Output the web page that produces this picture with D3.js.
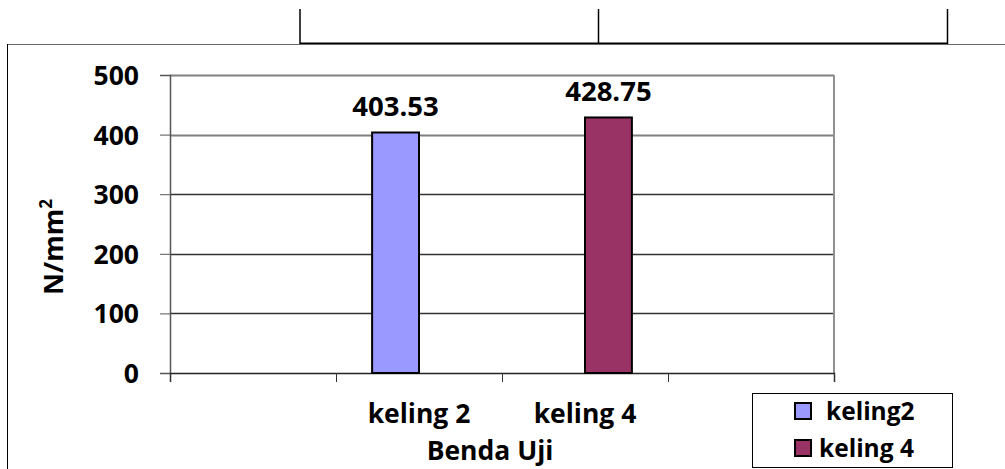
<!DOCTYPE html>
<html lang="en">
<head>
    <meta charset="UTF-8">
    <title>Benda Uji</title>
    <script src="https://d3js.org/d3.v7.min.js"></script>
    <style>
        body { margin: 0; background: #fff; }
        text { font-family: "Open Sans", Lato, sans-serif; font-weight: bold; fill: #000; }
    </style>
</head>
<body>
    <div id="chart"></div>

    <script>
        // Data
        var categories = ["", "keling 2", "keling 4", ""];
        var seriesNames = ["keling2", "keling 4"];
        var keling2Values = [null, 403.53, null, null];
        var keling4Values = [null, null, 428.75, null];
        var seriesColors = ["#9999FF", "#993366"];
        var yTicks = [0, 100, 200, 300, 400, 500];

        var seriesValues = [keling2Values, keling4Values];

        var svg = d3.select("#chart")
            .append("svg")
            .attr("width", 1005)
            .attr("height", 469);

        // table lines at the top of the page
        var header = svg.append("g").attr("stroke", "#000");
        header.append("line").attr("x1", 300).attr("x2", 948).attr("y1", 43.5).attr("y2", 43.5).attr("stroke-width", 2);
        [300, 598.5, 947.5].forEach(function(x) {
            header.append("line").attr("x1", x).attr("x2", x).attr("y1", 9).attr("y2", 44).attr("stroke-width", 1.5);
        });

        // chart frame
        svg.append("line").attr("x1", 7).attr("x2", 1005).attr("y1", 44.5).attr("y2", 44.5).attr("stroke", "#666");
        svg.append("line").attr("x1", 7.5).attr("x2", 7.5).attr("y1", 44).attr("y2", 469).attr("stroke", "#000");

        var plotLeft = 170, plotRight = 834, plotTop = 75, plotBottom = 373;

        var x0 = d3.scaleBand()
            .domain(d3.range(categories.length))
            .range([plotLeft, plotRight])
            .paddingInner(0)
            .paddingOuter(0);

        var x1 = d3.scaleBand()
            .domain(d3.range(seriesNames.length))
            .range([0, x0.bandwidth()])
            .paddingInner(0)
            .paddingOuter(0.77);

        var y = d3.scaleLinear()
            .domain([0, 500])
            .range([plotBottom, plotTop]);

        // gridlines
        svg.append("g")
            .selectAll("line")
            .data(yTicks.filter(function(d) { return d > 0; }))
            .enter()
            .append("line")
            .attr("x1", plotLeft)
            .attr("x2", plotRight)
            .attr("y1", function(d) { return Math.round(y(d)) + 0.5; })
            .attr("y2", function(d) { return Math.round(y(d)) + 0.5; })
            .attr("stroke", function(d) { return d >= 400 ? "#808080" : "#333"; })
            .attr("stroke-width", function(d) { return d >= 400 ? 2 : 1.5; });

        // right border of plot area
        svg.append("line")
            .attr("x1", plotRight).attr("x2", plotRight)
            .attr("y1", plotTop).attr("y2", plotBottom)
            .attr("stroke", "#909090").attr("stroke-width", 2);

        // y axis
        var yAxis = svg.append("g")
            .attr("transform", "translate(" + plotLeft + ",0)")
            .call(d3.axisLeft(y).tickValues(yTicks).tickSize(10).tickPadding(21));
        yAxis.select(".domain").attr("stroke", "#555").attr("stroke-width", 1.5);
        yAxis.selectAll(".tick line").attr("stroke", "#555");
        yAxis.selectAll("text").style("font-size", "26.5px").attr("dy", "0.36em");

        // x axis
        var xAxis = svg.append("g")
            .attr("transform", "translate(0," + plotBottom + ")")
            .call(d3.axisBottom(d3.scaleLinear().domain([0, 4]).range([plotLeft, plotRight]))
                .tickValues([0, 1, 2, 3, 4]).tickSize(9).tickFormat(""));
        xAxis.select(".domain").attr("stroke", "#222").attr("stroke-width", 1.5);
        xAxis.selectAll(".tick line").attr("stroke", "#333");

        svg.append("g")
            .selectAll("text")
            .data(categories)
            .enter()
            .append("text")
            .attr("x", function(d, i) { return x0(i) + x0.bandwidth() / 2; })
            .attr("y", 423)
            .attr("text-anchor", "middle")
            .style("font-size", "26.5px")
            .text(function(d) { return d; });

        // bars
        seriesValues.forEach(function(vals, s) {
            var g = svg.append("g");
            var pts = vals.map(function(v, i) { return { v: v, i: i }; })
                .filter(function(d) { return d.v !== null; });

            g.selectAll("rect")
                .data(pts)
                .enter()
                .append("rect")
                .attr("x", function(d) { return x0(d.i) + x1(s); })
                .attr("y", function(d) { return y(d.v); })
                .attr("width", x1.bandwidth())
                .attr("height", function(d) { return plotBottom - y(d.v); })
                .attr("fill", seriesColors[s])
                .attr("stroke", "#000")
                .attr("stroke-width", 2);

            g.selectAll("text")
                .data(pts)
                .enter()
                .append("text")
                .attr("x", function(d) { return x0(d.i) + x1(s) + x1.bandwidth() / 2; })
                .attr("y", function(d) { return y(d.v) - 16; })
                .attr("text-anchor", "middle")
                .style("font-size", "27.5px")
                .text(function(d) { return d.v.toFixed(2); });
        });

        // axis titles
        svg.append("text")
            .attr("transform", "translate(63,247) rotate(-90)")
            .attr("text-anchor", "middle")
            .style("font-size", "27px")
            .html("N/mm<tspan dy='-11' style='font-size:17px'>2</tspan>");

        svg.append("text")
            .attr("x", 490)
            .attr("y", 460)
            .attr("text-anchor", "middle")
            .style("font-size", "26.5px")
            .text("Benda Uji");

        // legend
        var legend = svg.append("g");
        legend.append("rect")
            .attr("x", 752.5).attr("y", 393.5)
            .attr("width", 200).attr("height", 74)
            .attr("fill", "#fff").attr("stroke", "#000").attr("stroke-width", 1);

        var legendRows = legend.selectAll(".row")
            .data(seriesNames)
            .enter()
            .append("g")
            .attr("class", "row")
            .attr("transform", function(d, i) { return "translate(795," + (403 + i * 37) + ")"; });

        legendRows.append("rect")
            .attr("width", 16).attr("height", 16)
            .attr("fill", function(d, i) { return seriesColors[i]; })
            .attr("stroke", "#000").attr("stroke-width", 2);

        legendRows.append("text")
            .attr("x", function(d, i) { return i === 0 ? 31 : 24; })
            .attr("y", 8)
            .attr("dy", "0.36em")
            .style("font-size", "24.5px")
            .text(function(d) { return d; });
    </script>
</body>
</html>
